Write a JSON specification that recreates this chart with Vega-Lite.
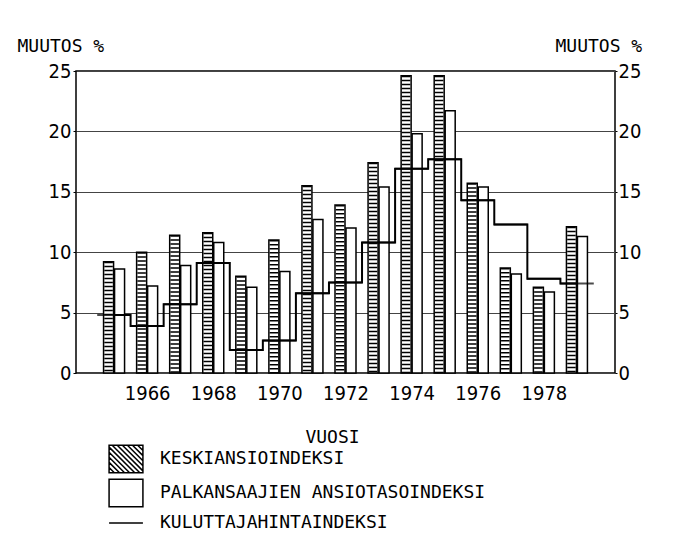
{
  "$schema": "https://vega.github.io/schema/vega-lite/v6.json",
  "autosize": "none",
  "width": 539,
  "height": 302,
  "padding": {"left": 76, "top": 71, "right": 73, "bottom": 165},
  "background": "white",
  "config": {
    "view": {"stroke": "black", "strokeWidth": 1.5},
    "legend": {"rowPadding": 0},
    "axis": {
      "labelColor": "black",
      "titleColor": "black",
      "domain": false,
      "labelFont": "Liberation Sans Narrow, DejaVu Sans Condensed, sans-serif",
      "labelFontSize": 20,
      "titleFont": "DejaVu Sans Mono",
      "titleFontSize": 18,
      "titleFontWeight": "normal",
      "tickColor": "black"
    }
  },
  "data": {
    "values": [
      {"vuosi": 1965, "sarja": "KESKIANSIOINDEKSI", "muutos": 9.2},
      {"vuosi": 1966, "sarja": "KESKIANSIOINDEKSI", "muutos": 10.0},
      {"vuosi": 1967, "sarja": "KESKIANSIOINDEKSI", "muutos": 11.4},
      {"vuosi": 1968, "sarja": "KESKIANSIOINDEKSI", "muutos": 11.6},
      {"vuosi": 1969, "sarja": "KESKIANSIOINDEKSI", "muutos": 8.0},
      {"vuosi": 1970, "sarja": "KESKIANSIOINDEKSI", "muutos": 11.0},
      {"vuosi": 1971, "sarja": "KESKIANSIOINDEKSI", "muutos": 15.5},
      {"vuosi": 1972, "sarja": "KESKIANSIOINDEKSI", "muutos": 13.9},
      {"vuosi": 1973, "sarja": "KESKIANSIOINDEKSI", "muutos": 17.4},
      {"vuosi": 1974, "sarja": "KESKIANSIOINDEKSI", "muutos": 24.6},
      {"vuosi": 1975, "sarja": "KESKIANSIOINDEKSI", "muutos": 24.6},
      {"vuosi": 1976, "sarja": "KESKIANSIOINDEKSI", "muutos": 15.7},
      {"vuosi": 1977, "sarja": "KESKIANSIOINDEKSI", "muutos": 8.7},
      {"vuosi": 1978, "sarja": "KESKIANSIOINDEKSI", "muutos": 7.1},
      {"vuosi": 1979, "sarja": "KESKIANSIOINDEKSI", "muutos": 12.1},
      {"vuosi": 1965, "sarja": "PALKANSAAJIEN ANSIOTASOINDEKSI", "muutos": 8.6},
      {"vuosi": 1966, "sarja": "PALKANSAAJIEN ANSIOTASOINDEKSI", "muutos": 7.2},
      {"vuosi": 1967, "sarja": "PALKANSAAJIEN ANSIOTASOINDEKSI", "muutos": 8.9},
      {"vuosi": 1968, "sarja": "PALKANSAAJIEN ANSIOTASOINDEKSI", "muutos": 10.8},
      {"vuosi": 1969, "sarja": "PALKANSAAJIEN ANSIOTASOINDEKSI", "muutos": 7.1},
      {"vuosi": 1970, "sarja": "PALKANSAAJIEN ANSIOTASOINDEKSI", "muutos": 8.4},
      {"vuosi": 1971, "sarja": "PALKANSAAJIEN ANSIOTASOINDEKSI", "muutos": 12.7},
      {"vuosi": 1972, "sarja": "PALKANSAAJIEN ANSIOTASOINDEKSI", "muutos": 12.0},
      {"vuosi": 1973, "sarja": "PALKANSAAJIEN ANSIOTASOINDEKSI", "muutos": 15.4},
      {"vuosi": 1974, "sarja": "PALKANSAAJIEN ANSIOTASOINDEKSI", "muutos": 19.8},
      {"vuosi": 1975, "sarja": "PALKANSAAJIEN ANSIOTASOINDEKSI", "muutos": 21.7},
      {"vuosi": 1976, "sarja": "PALKANSAAJIEN ANSIOTASOINDEKSI", "muutos": 15.4},
      {"vuosi": 1977, "sarja": "PALKANSAAJIEN ANSIOTASOINDEKSI", "muutos": 8.2},
      {"vuosi": 1978, "sarja": "PALKANSAAJIEN ANSIOTASOINDEKSI", "muutos": 6.7},
      {"vuosi": 1979, "sarja": "PALKANSAAJIEN ANSIOTASOINDEKSI", "muutos": 11.3},
      {"vuosi": 1965, "sarja": "KULUTTAJAHINTAINDEKSI", "muutos": 4.8},
      {"vuosi": 1966, "sarja": "KULUTTAJAHINTAINDEKSI", "muutos": 3.9},
      {"vuosi": 1967, "sarja": "KULUTTAJAHINTAINDEKSI", "muutos": 5.7},
      {"vuosi": 1968, "sarja": "KULUTTAJAHINTAINDEKSI", "muutos": 9.1},
      {"vuosi": 1969, "sarja": "KULUTTAJAHINTAINDEKSI", "muutos": 1.9},
      {"vuosi": 1970, "sarja": "KULUTTAJAHINTAINDEKSI", "muutos": 2.7},
      {"vuosi": 1971, "sarja": "KULUTTAJAHINTAINDEKSI", "muutos": 6.6},
      {"vuosi": 1972, "sarja": "KULUTTAJAHINTAINDEKSI", "muutos": 7.5},
      {"vuosi": 1973, "sarja": "KULUTTAJAHINTAINDEKSI", "muutos": 10.8},
      {"vuosi": 1974, "sarja": "KULUTTAJAHINTAINDEKSI", "muutos": 16.9},
      {"vuosi": 1975, "sarja": "KULUTTAJAHINTAINDEKSI", "muutos": 17.7},
      {"vuosi": 1976, "sarja": "KULUTTAJAHINTAINDEKSI", "muutos": 14.3},
      {"vuosi": 1977, "sarja": "KULUTTAJAHINTAINDEKSI", "muutos": 12.3},
      {"vuosi": 1978, "sarja": "KULUTTAJAHINTAINDEKSI", "muutos": 7.8},
      {"vuosi": 1979, "sarja": "KULUTTAJAHINTAINDEKSI", "muutos": 7.4}
    ]
  },
  "encoding": {
    "x": {
      "field": "vuosi", "type": "quantitative",
      "scale": {"domain": [1964, 1980], "nice": false, "zero": false},
      "axis": {
        "values": [1966, 1968, 1970, 1972, 1974, 1976, 1978],
        "format": "d", "grid": false, "tickSize": 0, "labelPadding": 10,
        "labelFlush": false,
        "title": "VUOSI", "titleX": 256, "titleY": 69,
        "titleAlign": "center", "titleBaseline": "alphabetic"
      }
    }
  },
  "resolve": {"axis": {"y": "independent"}},
  "layer": [
    {
      "transform": [{"filter": "datum.sarja === 'KESKIANSIOINDEKSI'"}],
      "mark": {"type": "bar", "width": 10, "xOffset": -5.5, "fill": "white", "stroke": "black", "strokeWidth": 1.5},
      "encoding": {
        "y": {
          "field": "muutos", "type": "quantitative",
          "scale": {"domain": [0, 25], "nice": false},
          "axis": {
            "orient": "left", "values": [0, 5, 10, 15, 20, 25],
            "grid": true, "gridColor": "#444444", "gridWidth": 1,
            "tickSize": 3, "labelPadding": 2,
            "title": "MUUTOS %", "titleAngle": 0, "titleX": -59, "titleY": -20,
            "titleAlign": "left", "titleBaseline": "alphabetic"
          }
        }
      }
    },
    {
      "transform": [{"filter": "datum.sarja === 'KESKIANSIOINDEKSI'"}],
      "mark": {"type": "rule", "xOffset": -5.5, "strokeWidth": 8.5, "strokeDash": [1.5, 2.5], "color": "black"},
      "encoding": {
        "y": {"field": "muutos", "type": "quantitative", "scale": {"domain": [0, 25], "nice": false}, "axis": null},
        "y2": {"datum": 0}
      }
    },
    {
      "transform": [{"filter": "datum.sarja === 'PALKANSAAJIEN ANSIOTASOINDEKSI'"}],
      "mark": {"type": "bar", "width": 10, "xOffset": 5.5, "fill": "white", "stroke": "black", "strokeWidth": 1.5},
      "encoding": {
        "y": {"field": "muutos", "type": "quantitative", "scale": {"domain": [0, 25], "nice": false}, "axis": null}
      }
    },
    {
      "transform": [{"filter": "datum.sarja === 'KULUTTAJAHINTAINDEKSI'"}],
      "mark": {"type": "line", "interpolate": "step", "color": "black", "strokeWidth": 2},
      "encoding": {
        "y": {
          "field": "muutos", "type": "quantitative",
          "scale": {"domain": [0, 25], "nice": false},
          "axis": {
            "orient": "right", "values": [0, 5, 10, 15, 20, 25],
            "grid": false, "tickSize": 2, "labelPadding": 1,
            "title": "MUUTOS %", "titleAngle": 0, "titleX": -60, "titleY": -20,
            "titleAlign": "left", "titleBaseline": "alphabetic"
          }
        }
      }
    },
    {
      "transform": [{"filter": "datum.sarja === 'KULUTTAJAHINTAINDEKSI'"}],
      "mark": {"type": "tick", "orient": "horizontal", "size": 33.7, "thickness": 2, "color": "black"},
      "encoding": {
        "y": {"field": "muutos", "type": "quantitative", "scale": {"domain": [0, 25], "nice": false}, "axis": null}
      }
    },
    {
      "transform": [{"filter": "datum.vuosi === 1965"}],
      "mark": {"type": "point", "size": 0, "filled": false, "color": "black", "strokeWidth": 1.5},
      "encoding": {
        "y": {"field": "muutos", "type": "quantitative", "scale": {"domain": [0, 25], "nice": false}, "axis": null},
        "shape": {
          "field": "sarja", "type": "nominal",
          "scale": {
            "domain": ["KESKIANSIOINDEKSI", "PALKANSAAJIEN ANSIOTASOINDEKSI", "KULUTTAJAHINTAINDEKSI"],
            "range": [
              "M-1.41,-1.15H1.41V1.15H-1.41ZM-1.41,0.7L-0.97,1.15M-1.41,0.28L-0.54,1.15M-1.41,-0.15L-0.12,1.15M-1.41,-0.57L0.3,1.15M-1.41,-0.99L0.73,1.15M-1.15,-1.15L1.15,1.15M-0.73,-1.15L1.41,0.99M-0.3,-1.15L1.41,0.57M0.12,-1.15L1.41,0.15M0.54,-1.15L1.41,-0.28M0.97,-1.15L1.41,-0.7",
              "M-1.41,-1.15H1.41V1.15H-1.41Z",
              "M-1.41,0H1.41"
            ]
          },
          "legend": {
            "orient": "none", "legendX": 37, "legendY": 375,
            "title": null, "padding": 0, "rowPadding": 0,
            "symbolSize": 576, "symbolStrokeColor": "black", "symbolFillColor": "white",
            "symbolStrokeWidth": 1.5, "symbolOpacity": 1, "labelOffset": 21,
            "labelFont": "DejaVu Sans Mono", "labelFontSize": 18, "labelColor": "black",
            "labelLimit": 500
          }
        }
      }
    }
  ]
}
